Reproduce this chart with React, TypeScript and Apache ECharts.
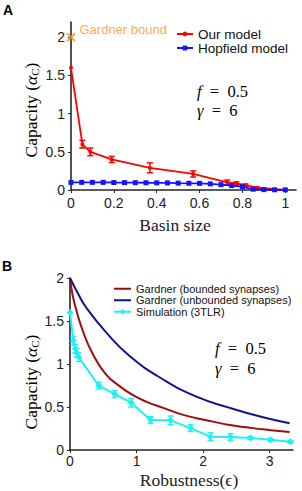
import React, { useEffect, useRef } from "react";
import * as echarts from "echarts";

// ---------- Panel A data ----------
const basinTicks = [0, 0.2, 0.4, 0.6, 0.8, 1];
const capTicksA = [0, 0.5, 1, 1.5, 2];
const gardnerBoundPoint = [[0, 2]];
const ourX = [0, 0.053, 0.09, 0.19, 0.368, 0.57, 0.729, 0.772, 0.814, 0.868, 1.0];
const ourY = [1.6, 0.6, 0.5, 0.4, 0.29, 0.21, 0.1, 0.085, 0.063, 0.03, 0.0];
const ourErr = [0, 0.05, 0.05, 0.04, 0.065, 0.04, 0.03, 0.022, 0.016, 0.008, 0];
const hopX = [0, 0.05, 0.1, 0.15, 0.2, 0.25, 0.3, 0.35, 0.4, 0.45, 0.5, 0.55, 0.6, 0.65, 0.7, 0.75, 0.8, 0.85, 0.9, 0.95, 1.0];
const hopY = [0.1, 0.1, 0.1, 0.1, 0.098, 0.097, 0.096, 0.095, 0.094, 0.093, 0.09, 0.088, 0.087, 0.08, 0.07, 0.058, 0.042, 0.01, 0.005, 0.003, 0.002];

// ---------- Panel B data ----------
const robTicks = [0, 1, 2, 3];
const capTicksB = [0, 0.5, 1, 1.5, 2];
const boundedX = [0, 0.04, 0.09, 0.19, 0.34, 0.54, 0.75, 0.94, 1.15, 1.4, 1.65, 1.9, 2.15, 2.4, 2.65, 2.9, 3.1, 3.3];
const boundedY = [2.0, 1.8, 1.64, 1.39, 1.12, 0.88, 0.74, 0.64, 0.56, 0.49, 0.42, 0.37, 0.33, 0.29, 0.265, 0.24, 0.225, 0.21];
const unboundedX = [0, 0.12, 0.24, 0.54, 0.9, 1.4, 1.9, 2.4, 2.9, 3.3];
const unboundedY = [2.0, 1.82, 1.66, 1.37, 1.09, 0.82, 0.62, 0.49, 0.38, 0.31];
const simX = [0, 0.05, 0.08, 0.1, 0.13, 0.43, 0.67, 0.92, 1.21, 1.51, 1.81, 2.11, 2.41, 2.71, 3.01, 3.31];
const simY = [1.6, 1.27, 1.18, 1.13, 1.08, 0.75, 0.65, 0.55, 0.35, 0.345, 0.255, 0.155, 0.15, 0.14, 0.12, 0.095];
const simErr = [0, 0.05, 0.05, 0.05, 0.05, 0.04, 0.04, 0.05, 0.04, 0.05, 0.04, 0.045, 0.04, 0.015, 0.015, 0.015];

const zip = (xs: number[], ys: number[]) => xs.map((x, i) => [x, ys[i]]);
const zip3 = (xs: number[], ys: number[], es: number[]) => xs.map((x, i) => [x, ys[i], es[i]]);

const SANS = "'Liberation Sans', Arial, Helvetica, sans-serif";
const SERIF = "'Liberation Serif', 'Times New Roman', serif";
const AXIS_COLOR = "#262626";

const RED = "#ff0000";
const BLUE = "#1414ff";
const ORANGE = "#f7931e";
const DARKRED = "#a00d0d";
const NAVY = "#14148c";
const CYAN = "#1ef0f5";
const LINE_ICON = "path://M0,0L20,0L20,2.4L0,2.4Z";

function errorBars(color: string, cap: number) {
  return (params: any, api: any) => {
    const x = api.value(0);
    const y = api.value(1);
    const e = api.value(2);
    if (!e) return null;
    const top = api.coord([x, y + e]);
    const bot = api.coord([x, y - e]);
    const st = { stroke: color, lineWidth: 1.5 };
    return {
      type: "group",
      children: [
        { type: "line", shape: { x1: top[0], y1: top[1], x2: bot[0], y2: bot[1] }, style: st },
        { type: "line", shape: { x1: top[0] - cap, y1: top[1], x2: top[0] + cap, y2: top[1] }, style: st },
        { type: "line", shape: { x1: bot[0] - cap, y1: bot[1], x2: bot[0] + cap, y2: bot[1] }, style: st },
      ],
    };
  };
}

function axisCommon() {
  return {
    axisLine: { show: true, onZero: false, lineStyle: { color: AXIS_COLOR, width: 1.6 } },
    splitLine: { show: false },
  };
}

export default function App() {
  const ref = useRef<HTMLDivElement>(null);
  useEffect(() => {
    if (!ref.current) return;
    const chart = echarts.init(ref.current, null, { renderer: "svg" });
    const capRich = {
      n: { fontFamily: SERIF, fontSize: 17.5, color: "#222" },
      a: { fontFamily: SERIF, fontSize: 17.5, fontStyle: "italic", color: "#222" },
      s: { fontFamily: SERIF, fontSize: 11, color: "#222", padding: [7, 0, 0, 0] },
    };
    const capText = "{n|Capacity (}{a|α}{s|C}{n|)}";
    const mathRich = {
      i: { fontFamily: SERIF, fontSize: 16.5, fontStyle: "italic", color: "#222" },
      n: { fontFamily: SERIF, fontSize: 16.5, color: "#222" },
    };
    const option: any = {
      animation: false,
      backgroundColor: "#fff",
      grid: [
        { left: 71, right: 6, top: 22, bottom: 301, containLabel: false },
        { left: 70, right: 9, top: 278, bottom: 41, containLabel: false },
      ],
      xAxis: [
        {
          gridIndex: 0, type: "value", min: 0, max: 1.05, interval: 0.2,
          ...axisCommon(),
          axisTick: { show: true, length: 3, customValues: basinTicks, lineStyle: { color: AXIS_COLOR } },
          axisLabel: { color: "#222", fontFamily: SANS, fontSize: 14, margin: 6, customValues: basinTicks },
        },
        {
          gridIndex: 1, type: "value", min: 0, max: 3.35, interval: 1,
          ...axisCommon(),
          axisTick: { show: true, length: 3, customValues: robTicks, lineStyle: { color: AXIS_COLOR } },
          axisLabel: { color: "#222", fontFamily: SANS, fontSize: 14, margin: 4, customValues: robTicks },
        },
      ],
      yAxis: [
        {
          gridIndex: 0, type: "value", min: 0, max: 2.2, interval: 0.5,
          ...axisCommon(),
          axisTick: { show: true, length: 3, customValues: capTicksA, lineStyle: { color: AXIS_COLOR } },
          axisLabel: { color: "#222", fontFamily: SANS, fontSize: 14, margin: 6, customValues: capTicksA },
        },
        {
          gridIndex: 1, type: "value", min: 0, max: 2, interval: 0.5,
          ...axisCommon(),
          axisTick: { show: true, length: 3, customValues: capTicksB, lineStyle: { color: AXIS_COLOR } },
          axisLabel: { color: "#222", fontFamily: SANS, fontSize: 14, margin: 6, customValues: capTicksB },
        },
      ],
      legend: [
        {
          data: ["Our model", "Hopfield model"],
          orient: "vertical", left: 176, top: 27, padding: 0,
          itemWidth: 16, itemHeight: 6, itemGap: 0,
          textStyle: { fontFamily: SANS, fontSize: 13.5, color: "#111", lineHeight: 14 },
        },
        {
          data: [
            { name: "Gardner (bounded synapses)", icon: LINE_ICON },
            { name: "Gardner (unbounded synapses)", icon: LINE_ICON },
            { name: "Simulation (3TLR)" },
          ],
          orient: "vertical", left: 113, top: 283, padding: 0,
          itemWidth: 17, itemHeight: 7, itemGap: 0,
          textStyle: { fontFamily: SANS, fontSize: 11, color: "#111", lineHeight: 11.5 },
        },
      ],
      series: [
        {
          name: "Gardner bound", type: "scatter", xAxisIndex: 0, yAxisIndex: 0,
          data: gardnerBoundPoint, clip: false,
          symbol: "path://M0 0L10 10M10 0L0 10", symbolSize: 8,
          itemStyle: { color: "none", borderColor: ORANGE, borderWidth: 2 },
          label: {
            show: true, position: "right", distance: 2, offset: [0, -8],
            formatter: "Gardner bound", color: ORANGE, fontFamily: SANS, fontSize: 13,
          },
          z: 5,
        },
        {
          name: "Our model", type: "line", xAxisIndex: 0, yAxisIndex: 0,
          data: zip(ourX, ourY), clip: false,
          symbol: "circle", symbolSize: 4, color: RED,
          lineStyle: { color: RED, width: 1.8 }, itemStyle: { color: RED },
          z: 3,
        },
        {
          name: "Our model err", type: "custom", xAxisIndex: 0, yAxisIndex: 0,
          data: zip3(ourX, ourY, ourErr), renderItem: errorBars(RED, 3), clip: false, z: 3,
        },
        {
          name: "Hopfield model", type: "line", xAxisIndex: 0, yAxisIndex: 0,
          data: zip(hopX, hopY), clip: false,
          symbol: "rect", symbolSize: 5, color: BLUE,
          lineStyle: { color: BLUE, width: 1.8 }, itemStyle: { color: BLUE },
          z: 4,
        },
        {
          name: "Gardner (bounded synapses)", type: "line", xAxisIndex: 1, yAxisIndex: 1,
          data: zip(boundedX, boundedY), smooth: true,
          showSymbol: false, color: DARKRED,
          lineStyle: { color: DARKRED, width: 2 },
        },
        {
          name: "Gardner (unbounded synapses)", type: "line", xAxisIndex: 1, yAxisIndex: 1,
          data: zip(unboundedX, unboundedY), smooth: true,
          showSymbol: false, color: NAVY,
          lineStyle: { color: NAVY, width: 2 },
        },
        {
          name: "Simulation (3TLR)", type: "line", xAxisIndex: 1, yAxisIndex: 1,
          data: zip(simX, simY), clip: false,
          symbol: "diamond", symbolSize: 7, color: CYAN,
          lineStyle: { color: CYAN, width: 2 }, itemStyle: { color: CYAN },
          z: 4,
        },
        {
          name: "Simulation err", type: "custom", xAxisIndex: 1, yAxisIndex: 1,
          data: zip3(simX, simY, simErr), renderItem: errorBars(CYAN, 3), clip: false, z: 4,
        },
      ],
      graphic: [
        { type: "text", x: 3, y: 3, style: { text: "A", font: `bold 14px ${SANS}`, fill: "#000" } },
        { type: "text", x: 2, y: 259, style: { text: "B", font: `bold 14px ${SANS}`, fill: "#000" } },
        {
          type: "text", x: 31, y: 110, rotation: Math.PI / 2,
          style: { text: capText, rich: capRich, align: "center", verticalAlign: "middle" },
        },
        {
          type: "text", x: 31, y: 382, rotation: Math.PI / 2,
          style: { text: capText, rich: capRich, align: "center", verticalAlign: "middle" },
        },
        {
          type: "text", x: 175, y: 225,
          style: { text: "Basin size", font: `17.5px ${SERIF}`, fill: "#222", align: "center", verticalAlign: "middle" },
        },
        {
          type: "text", x: 189, y: 480,
          style: { text: "Robustness(ϵ)", font: `17.5px ${SERIF}`, fill: "#222", align: "center", verticalAlign: "middle" },
        },
        {
          type: "text", x: 197, y: 91,
          style: { text: "{i|f}{n|\u2002=\u20020.5}", rich: mathRich, align: "left", verticalAlign: "middle" },
        },
        {
          type: "text", x: 197, y: 110,
          style: { text: "{i|γ}{n|\u2002=\u20026}", rich: mathRich, align: "left", verticalAlign: "middle" },
        },
        {
          type: "text", x: 215, y: 348,
          style: { text: "{i|f}{n|\u2002=\u20020.5}", rich: mathRich, align: "left", verticalAlign: "middle" },
        },
        {
          type: "text", x: 215, y: 368,
          style: { text: "{i|γ}{n|\u2002=\u20026}", rich: mathRich, align: "left", verticalAlign: "middle" },
        },
      ],
    };
    chart.setOption(option);
    return () => chart.dispose();
  }, []);
  return (
    <div
      ref={ref}
      style={{ position: "absolute", left: 0, top: 0, width: 302, height: 491, background: "#fff" }}
    />
  );
}
